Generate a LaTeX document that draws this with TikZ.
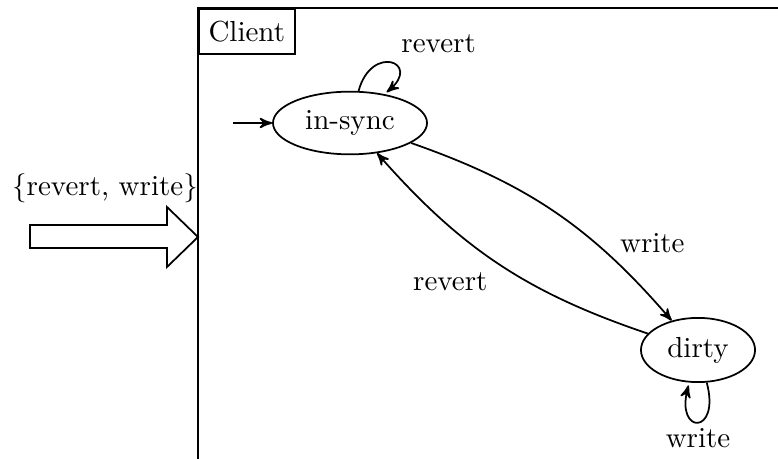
\documentclass[tikz,border=0pt]{standalone}
\usetikzlibrary{shapes.geometric,arrows}
\begin{document}
\begin{tikzpicture}[x=0.3448pt,y=-0.3448pt,semithick,>=stealth',
  state/.style={ellipse,draw},
  tag/.style={draw,rectangle,anchor=north west,minimum height=15.5pt},
  lbl/.style={inner sep=2pt},
  every loop/.style={->,shorten >=1pt}]
\useasboundingbox (0,0) rectangle (778,459);
\clip (0,0) rectangle (778,459);
\draw (198,8) rectangle (900,600);
\node[tag] (client) at (198,8) {Client};
\node[state] (insync) at (350,123) {in-sync};
\node[state] (dirty) at (698,350) {dirty};
\coordinate (init) at (233,123);
\draw[->] (init) -- (insync);
\draw[->,shorten >=1pt] (insync.75) .. controls +(75:17pt) and +(40:17pt) .. node[pos=0.5,above right,lbl,xshift=1.5pt,yshift=1.3pt] (l1) {revert} (insync.40);
\draw (dirty) edge[loop below] node[below,lbl] (l2) {write} (dirty);
\draw[->] (insync) to[bend left=15] node[pos=0.75,above right,lbl] (l3) {write} (dirty);
\draw[->] (dirty) to[bend left=15] node[pos=0.5,below left,lbl,xshift=-1.6pt,yshift=-0.8pt] (l4) {revert} (insync);
\draw (30,225) -- (167,225) -- (167,207) -- (198,237) -- (167,267) -- (167,248) -- (30,248) -- cycle;
\node (ext) at (105,188) {\{revert, write\}};
\end{tikzpicture}
\end{document}
